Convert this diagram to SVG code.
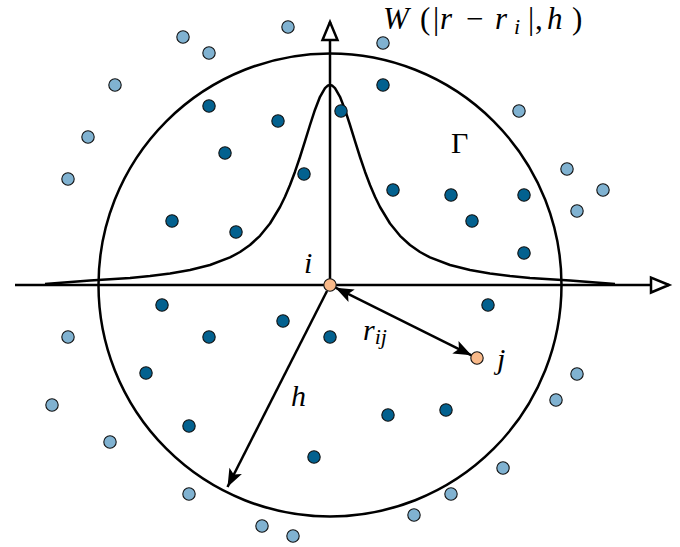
<svg xmlns="http://www.w3.org/2000/svg" width="680" height="547" viewBox="0 0 680 547">
<style>
.ln{fill:none;stroke:#000;stroke-width:2.5}
.dk{fill:#03618f;stroke:#111;stroke-width:1.1}
.lt{fill:#80b2d1;stroke:#111;stroke-width:1.1}
.or{fill:#f9b989;stroke:#111;stroke-width:1.1}
.tx{font-family:"Liberation Serif","Times New Roman",serif;font-style:italic;font-size:30px;fill:#000}
.big{font-size:31px}
.up{font-style:normal}
.sub{font-size:22px}
</style>
<defs>
<marker id="open" markerUnits="userSpaceOnUse" markerWidth="26" markerHeight="22" viewBox="-22 -11 26 22" refX="0" refY="0" orient="auto">
<path d="M0,0 L-18,-7.5 L-18,7.5 Z" fill="#fff" stroke="#000" stroke-width="2.5" stroke-linejoin="miter"/>
</marker>
<marker id="fill" markerUnits="userSpaceOnUse" markerWidth="24" markerHeight="18" viewBox="-20 -9 24 18" refX="0" refY="0" orient="auto-start-reverse">
<path d="M0,0 L-18,-7 L-14,0 L-18,7 Z" fill="#000"/>
</marker>
</defs>
<g id="region">
<circle class="ln" cx="330" cy="285" r="231.5"/>
<path id="kernel" class="ln" d="M45,284 L90,280.6 L130,278 L150,276 L170,273.4 L190,270 L210,265 L230,257.4 L240,252 L250,245 L260,235.8 L270,223.5 L280,207 L285,196.7 L290,185 L295,171.7 L300,157 L305,141.2 L310,125 L315,109.7 L320,96.8 L325,88.1 L327.5,85.8 L330,85 L332.5,85.8 L335,88.1 L340,96.8 L345,109.7 L350,125 L355,141.2 L360,157 L365,171.7 L370,185 L375,196.7 L380,207 L390,223.5 L400,235.8 L410,245 L420,252 L430,257.4 L450,265 L470,270 L490,273.4 L510,276 L530,278 L570,280.6 L615,284" stroke-linejoin="round"/>
</g>
<g id="connectors">
<line class="ln" x1="15" y1="285" x2="669" y2="285" marker-end="url(#open)"/>
<line class="ln" x1="330" y1="285" x2="330" y2="22" marker-end="url(#open)"/>
<line class="ln" x1="335.5" y1="287.7" x2="471.5" y2="355.3" marker-start="url(#fill)" marker-end="url(#fill)"/>
<line class="ln" x1="327" y1="291" x2="227.5" y2="487" marker-end="url(#fill)"/>
</g>
<g id="particles">
<circle class="lt" cx="288" cy="27" r="6.2"/>
<circle class="lt" cx="183" cy="37" r="6.2"/>
<circle class="lt" cx="209" cy="53" r="6.2"/>
<circle class="lt" cx="383" cy="43" r="6.2"/>
<circle class="lt" cx="115" cy="85" r="6.2"/>
<circle class="lt" cx="88" cy="137" r="6.2"/>
<circle class="lt" cx="68" cy="179" r="6.2"/>
<circle class="lt" cx="519" cy="111" r="6.2"/>
<circle class="lt" cx="567" cy="169" r="6.2"/>
<circle class="lt" cx="603" cy="190" r="6.2"/>
<circle class="lt" cx="577" cy="211" r="6.2"/>
<circle class="lt" cx="68" cy="337" r="6.2"/>
<circle class="lt" cx="52" cy="405" r="6.2"/>
<circle class="lt" cx="110" cy="442" r="6.2"/>
<circle class="lt" cx="189" cy="494" r="6.2"/>
<circle class="lt" cx="262" cy="526" r="6.2"/>
<circle class="lt" cx="293" cy="536" r="6.2"/>
<circle class="lt" cx="577" cy="374" r="6.2"/>
<circle class="lt" cx="556" cy="400" r="6.2"/>
<circle class="lt" cx="503" cy="468" r="6.2"/>
<circle class="lt" cx="451" cy="494" r="6.2"/>
<circle class="lt" cx="414" cy="515" r="6.2"/>
<circle class="dk" cx="209" cy="106" r="6.2"/>
<circle class="dk" cx="278" cy="121" r="6.2"/>
<circle class="dk" cx="225" cy="153" r="6.2"/>
<circle class="dk" cx="304" cy="174" r="6.2"/>
<circle class="dk" cx="172" cy="221" r="6.2"/>
<circle class="dk" cx="236" cy="232" r="6.2"/>
<circle class="dk" cx="341" cy="111" r="6.2"/>
<circle class="dk" cx="383" cy="85" r="6.2"/>
<circle class="dk" cx="393" cy="190" r="6.2"/>
<circle class="dk" cx="451" cy="195" r="6.2"/>
<circle class="dk" cx="524" cy="195" r="6.2"/>
<circle class="dk" cx="472" cy="221" r="6.2"/>
<circle class="dk" cx="524" cy="253" r="6.2"/>
<circle class="dk" cx="162" cy="305" r="6.2"/>
<circle class="dk" cx="283" cy="321" r="6.2"/>
<circle class="dk" cx="209" cy="337" r="6.2"/>
<circle class="dk" cx="330" cy="337" r="6.2"/>
<circle class="dk" cx="146" cy="373" r="6.2"/>
<circle class="dk" cx="189" cy="426" r="6.2"/>
<circle class="dk" cx="314" cy="457" r="6.2"/>
<circle class="dk" cx="488" cy="305" r="6.2"/>
<circle class="dk" cx="388" cy="415" r="6.2"/>
<circle class="dk" cx="446" cy="410" r="6.2"/>
</g>
<g id="node-i">
<circle class="or" cx="330" cy="285" r="6.2"/>
<text class="tx" x="304" y="273">i</text>
</g>
<g id="node-j">
<circle class="or" cx="477" cy="358" r="6.2"/>
<text class="tx" x="497" y="369">j</text>
</g>
<g id="labels">
<text class="tx big" y="29"><tspan x="383">W</tspan><tspan class="up" x="420">(</tspan><tspan class="up" x="433">|</tspan><tspan x="440">r</tspan><tspan class="up" x="466">−</tspan><tspan x="495">r</tspan><tspan class="sub" x="514" dy="5">i</tspan><tspan class="up" x="528" dy="-5">|</tspan><tspan class="up" x="535">,</tspan><tspan x="547">h</tspan><tspan class="up" x="572">)</tspan></text>
<text class="tx up" x="451" y="153">Γ</text>
<text class="tx" x="363" y="340">r<tspan class="sub" dy="4">ij</tspan></text>
<text class="tx" x="291" y="406">h</text>
</g>
</svg>
